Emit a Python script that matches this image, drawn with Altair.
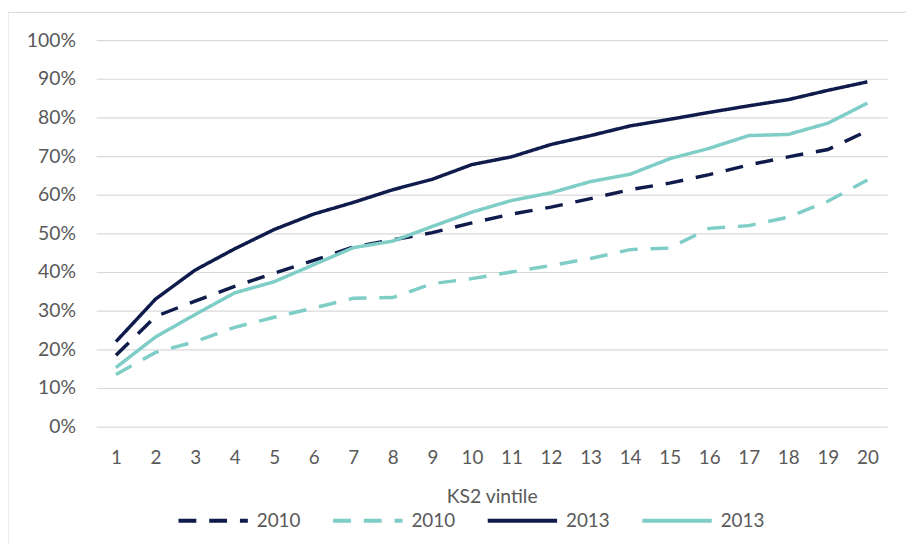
import altair as alt
import pandas as pd

vintiles = list(range(1, 21))
series_keys = ["2010 a", "2010 b", "2013 a", "2013 b"]
dark_2010 = [18.5, 28.5, 32.5, 36.3, 39.7, 43.0, 46.5, 48.3, 50.2, 52.7, 55.0, 56.8, 59.0, 61.3, 63.0, 65.2, 67.7, 69.8, 71.7, 76.5]
teal_2010 = [13.5, 19.2, 22.0, 25.7, 28.3, 30.7, 33.2, 33.4, 37.0, 38.3, 40.0, 41.7, 43.5, 45.8, 46.2, 51.3, 52.0, 54.2, 58.3, 63.8]
dark_2013 = [22.0, 33.0, 40.5, 46.0, 51.0, 55.0, 58.0, 61.3, 64.0, 67.8, 69.8, 73.0, 75.3, 77.8, 79.5, 81.3, 83.0, 84.6, 87.0, 89.2]
teal_2013 = [15.3, 23.2, 29.0, 34.6, 37.5, 41.9, 46.3, 48.0, 51.8, 55.5, 58.5, 60.5, 63.4, 65.3, 69.3, 72.0, 75.3, 75.6, 78.5, 83.7]
y_ticks = [i / 10 for i in range(11)]

NAVY = "#0f1b4b"
TEAL = "#7ecdc6"
GREY = "#595959"
FONT = "Lato"

rows = []
for key, vals in zip(series_keys, [dark_2010, teal_2010, dark_2013, teal_2013]):
    for v, val in zip(vintiles, vals):
        rows.append({"vintile": v, "value": val / 100.0, "series": key})
df = pd.DataFrame(rows)

W, H = 798, 390

legend_kw = dict(
    orient="none", legendX=81, legendY=448, direction="horizontal", columns=4,
    title=None, symbolType="stroke", symbolSize=4900, symbolStrokeWidth=4,
    labelExpr="slice(datum.label, 0, 4)", labelFontSize=19, labelColor=GREY,
    labelFont=FONT, labelOffset=7, columnPadding=24, padding=0,
)

lines = alt.Chart(df).mark_line(strokeWidth=3.5).encode(
    x=alt.X("vintile:O", scale=alt.Scale(type="point", padding=0.5),
            axis=alt.Axis(title="KS2 vintile", labelAngle=0, domain=False, ticks=False,
                          labelPadding=22, labelFontSize=19, labelColor=GREY, labelFont=FONT,
                          titleFontSize=19.5, titleColor=GREY, titleFont=FONT,
                          titleFontWeight="normal", titleY=62, titleBaseline="top")),
    y=alt.Y("value:Q", scale=alt.Scale(domain=[0, 1]), title=None,
            axis=alt.Axis(format=".0%", values=y_ticks, domain=False, ticks=False,
                          labelPadding=21, labelFontSize=19.5, labelColor=GREY, labelFont=FONT,
                          gridColor="#d9d9d9", gridWidth=1.2)),
    color=alt.Color("series:N", scale=alt.Scale(domain=series_keys, range=[NAVY, TEAL, NAVY, TEAL]),
                    legend=alt.Legend(**legend_kw)),
    strokeDash=alt.StrokeDash("series:N",
                              scale=alt.Scale(domain=series_keys,
                                              range=[[18, 13], [18, 13], [1, 0], [1, 0]]),
                              legend=alt.Legend(**legend_kw)),
)

frame = alt.Chart(pd.DataFrame({"a": [0]})).mark_rect(
    fillOpacity=0, stroke="#d9d9d9", strokeWidth=1
).encode(
    x=alt.value(-89), x2=alt.value(W + 60), y=alt.value(-28), y2=alt.value(H + 130)
)

chart = alt.layer(frame, lines).properties(
    width=W, height=H,
    autosize=alt.AutoSizeParams(type="none"),
    padding={"left": 89, "top": 30, "right": 19, "bottom": 115},
    background="white",
).configure_view(stroke=None)

chart.save("out.html", embed_options={"renderer": "svg", "actions": False})
